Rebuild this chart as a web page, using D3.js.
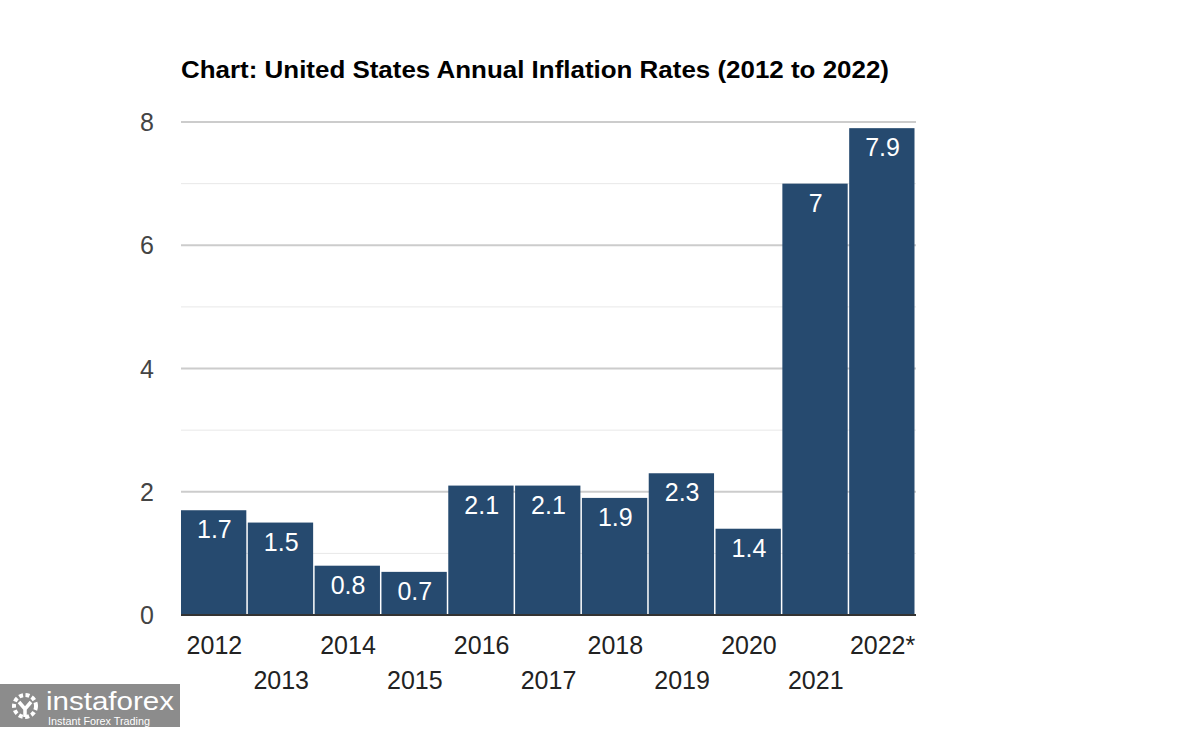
<!DOCTYPE html>
<html><head><meta charset="utf-8">
<script src="https://cdn.jsdelivr.net/npm/d3@7/dist/d3.min.js"></script>
<style>body{margin:0;background:#fff}svg{display:block}</style>
</head><body>
<svg id="c" width="1200" height="729"></svg>
<script>
const years = ["2012","2013","2014","2015","2016","2017","2018","2019","2020","2021","2022*"];
const rates = [1.7,1.5,0.8,0.7,2.1,2.1,1.9,2.3,1.4,7,7.9];
const labels = ["1.7","1.5","0.8","0.7","2.1","2.1","1.9","2.3","1.4","7","7.9"];
const yTicks = [0,2,4,6,8];
const yMinor = [1,3,5,7];

(function(){
const svg = d3.select("#c");
const pL = 181, pR = 916, pT = 122, pB = 615;
const x = d3.scaleBand().domain(years).range([pL, pR]).padding(0);
const y = d3.scaleLinear().domain([0,8]).range([pB, pT]);
const font = "'Liberation Sans', Arial, sans-serif";

svg.append("text").attr("x",181).attr("y",78).attr("font-family",font)
  .attr("font-weight","bold").attr("font-size",24).attr("fill","#000")
  .attr("textLength",708).attr("lengthAdjust","spacingAndGlyphs")
  .text("Chart: United States Annual Inflation Rates (2012 to 2022)");

svg.selectAll(".minor").data(yMinor).join("line")
  .attr("x1",pL).attr("x2",pR).attr("y1",d=>y(d)).attr("y2",d=>y(d))
  .attr("stroke","#e8e8e8").attr("stroke-width",1);
svg.selectAll(".major").data(yTicks.filter(d=>d>0)).join("line")
  .attr("x1",pL).attr("x2",pR).attr("y1",d=>y(d)).attr("y2",d=>y(d))
  .attr("stroke","#cccccc").attr("stroke-width",2);

svg.selectAll(".ytl").data(yTicks).join("text")
  .attr("x",147).attr("y",d=>y(d)+9).attr("text-anchor","middle")
  .attr("font-family",font).attr("font-size",25).attr("fill","#444").text(d=>d);

svg.selectAll(".bar").data(rates).join("rect")
  .attr("x",(d,i)=>x(years[i])).attr("width",x.bandwidth()-1.5)
  .attr("y",d=>y(d)).attr("height",d=>pB-y(d)).attr("fill","#264a6f");

svg.selectAll(".bl").data(rates).join("text")
  .attr("x",(d,i)=>x(years[i])+x.bandwidth()/2).attr("y",d=>y(d)+28)
  .attr("text-anchor","middle").attr("font-family",font).attr("font-size",25)
  .attr("fill","#fff").text((d,i)=>labels[i]);

svg.append("line").attr("x1",pL).attr("x2",pR).attr("y1",pB).attr("y2",pB)
  .attr("stroke","#333").attr("stroke-width",2);

svg.selectAll(".xl").data(years).join("text")
  .attr("x",d=>x(d)+x.bandwidth()/2).attr("y",(d,i)=>i%2===0?654:689)
  .attr("text-anchor","middle").attr("font-family",font).attr("font-size",25)
  .attr("fill","#222").text(d=>d);

// logo
const g = svg.append("g");
g.append("rect").attr("x",0).attr("y",684).attr("width",180).attr("height",43).attr("fill","#8c8c8c");
const gear = g.append("g").attr("transform","translate(25,706)");
gear.append("circle").attr("r",11).attr("fill","none").attr("stroke","#fff").attr("stroke-width",4).attr("stroke-dasharray","4 2.5");
gear.append("path").attr("d","M-6,-4 L0,3 L6,-4 M0,3 L0,11").attr("stroke","#fff").attr("stroke-width",3.5).attr("fill","none");
g.append("text").attr("x",46).attr("y",710).attr("font-family",font).attr("font-size",26)
  .attr("textLength",128).attr("lengthAdjust","spacingAndGlyphs").attr("fill","#fff").text("instaforex");
g.append("text").attr("x",48).attr("y",725).attr("font-family",font).attr("font-size",11)
  .attr("textLength",102).attr("lengthAdjust","spacingAndGlyphs").attr("fill","#fff").text("Instant Forex Trading");
})();
</script>
</body></html>
